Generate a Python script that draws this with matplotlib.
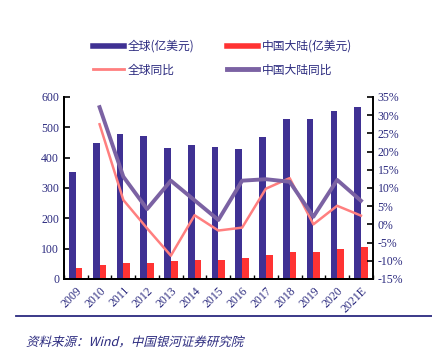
import numpy as np
import matplotlib.pyplot as plt
from matplotlib.lines import Line2D
from matplotlib.patches import PathPatch
from matplotlib.textpath import TextPath
from matplotlib.font_manager import FontProperties
from matplotlib.transforms import Affine2D, IdentityTransform

plt.rcParams['font.family'] = ['Noto Sans CJK SC', 'DejaVu Sans']

years = ['2009', '2010', '2011', '2012', '2013', '2014', '2015',
         '2016', '2017', '2018', '2019', '2020', '2021E']
global_val = [353, 448, 478, 472, 432, 440, 434, 429, 469, 527, 527, 555, 567]
china_val = [35, 45, 52, 53, 59, 63, 63, 70, 79, 88, 90, 100, 106]
global_yoy = [np.nan, 27.5, 6.7, -1.1, -8.6, 2.5, -1.7, -0.9, 9.8, 12.7, 0.0, 5.1, 2.4]
china_yoy = [np.nan, 32.2, 13.1, 4.2, 12.0, 6.6, 1.2, 12.0, 12.4, 11.7, 2.1, 12.2, 6.5]

navy = '#2B2A7F'
c_blue = '#3F3193'
c_red = '#FF3333'
c_pink = '#FF7F7F'
c_purple = '#7B62A3'

fig = plt.figure(figsize=(4.32, 3.5), dpi=100)
ax = fig.add_axes([0.148, 0.203, 0.715, 0.52])
ax2 = ax.twinx()

x = np.arange(len(years))
w = 0.28
ax.bar(x - w / 2, global_val, w, color=c_blue, zorder=2)
ax.bar(x + w / 2, china_val, w, color=c_red, zorder=2)

ax2.plot(x, global_yoy, color=c_pink, lw=1.8, zorder=3)
ax2.plot(x, china_yoy, color=c_purple, lw=2.8, zorder=4)

ax.set_xlim(-0.5, len(years) - 0.5)
ax.set_ylim(0, 600)
ax.set_yticks(np.arange(0, 601, 100))
ax2.set_ylim(-15, 35)
ax2.set_yticks(np.arange(-15, 36, 5))
ax2.set_yticklabels([f'{v}%' for v in range(-15, 36, 5)])

ax.set_xticks(x)
ax.set_xticklabels(years, rotation=45, ha='right', rotation_mode='anchor',
                   family='Liberation Serif', fontsize=8.5, color=navy)
ax.set_xticks(np.arange(-0.5, len(years), 1), minor=True)
ax.tick_params(axis='x', which='major', length=0, pad=4)
ax.tick_params(axis='x', which='minor', direction='in', length=3, width=1)

for a in (ax, ax2):
    a.tick_params(axis='y', direction='in', length=4, width=1.2,
                  labelsize=8.5, labelcolor=navy)
    for lab in a.get_yticklabels():
        lab.set_family('Liberation Serif')
    for s in a.spines.values():
        s.set_linewidth(1.4)
    a.spines['top'].set_visible(False)
ax.spines['right'].set_visible(False)

# legend: row 1 = amounts, row 2 = growth
handles = [Line2D([], [], color=c_blue, lw=4), Line2D([], [], color=c_pink, lw=2),
           Line2D([], [], color=c_red, lw=4), Line2D([], [], color=c_purple, lw=3.5)]
labels = ['全球(亿美元)', '全球同比', '中国大陆(亿美元)', '中国大陆同比']
leg = fig.legend(handles, labels, ncol=2, loc='upper left',
                 bbox_to_anchor=(93 / 432, 1 - 40 / 350), borderpad=0, borderaxespad=0,
                 frameon=False, fontsize=8.5, handlelength=2.6, columnspacing=2.75,
                 labelspacing=0.9, handletextpad=0.35)
for t in leg.get_texts():
    t.set_color(navy)

# footer
fig.add_artist(Line2D([16 / 432, 1.0], [0.097, 0.097], color=navy, lw=1.3))
src = '资料来源：Wind，中国银河证券研究院'
tp = TextPath((0, 0), src, size=12.5, prop=FontProperties(family='Noto Sans CJK SC'))
tr = Affine2D().skew_deg(14, 0).translate(26, 4)
fig.add_artist(PathPatch(tr.transform_path(tp), transform=IdentityTransform(),
                         facecolor=navy, edgecolor='none'))

fig.savefig('out.png', dpi=100)
